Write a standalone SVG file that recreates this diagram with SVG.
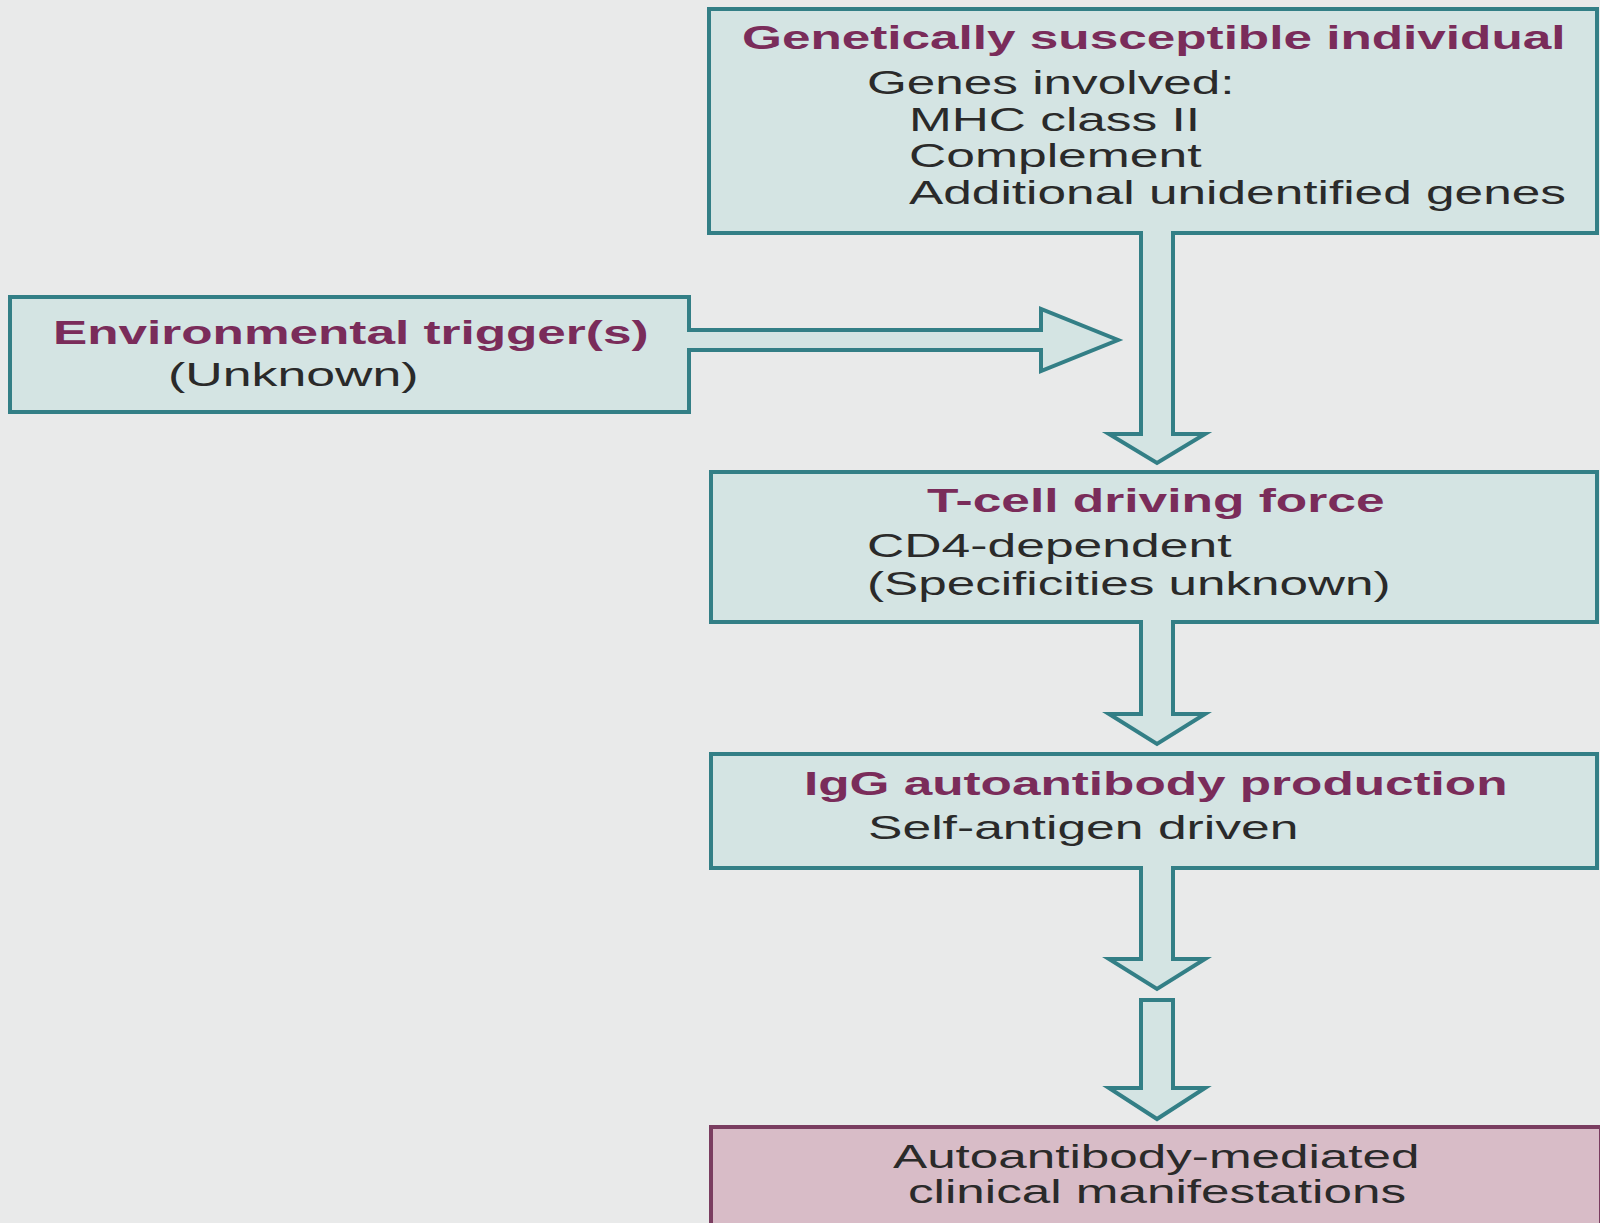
<svg xmlns="http://www.w3.org/2000/svg" width="1600" height="1223" viewBox="0 0 1600 1223">
<style>
.box{fill:#d4e4e3;stroke:#337f86;stroke-width:4}
.pbox{fill:#d8bcc7;stroke:#7a3d60;stroke-width:4}
.af{fill:#d4e4e3;stroke:none}
.as{fill:none;stroke:#337f86;stroke-width:4;stroke-linejoin:miter}
.t{font-family:"Liberation Sans",Arial,sans-serif;font-size:33px;font-weight:bold;fill:#7a2c5a}
.b{font-family:"Liberation Sans",Arial,sans-serif;font-size:33px;fill:#2a2a2a}
</style>
<rect width="1600" height="1223" fill="#e9eaea"/>
<g id="connectors">
<polygon class="af" points="1141,231 1141,434 1109,434 1157,463 1205,434 1173,434 1173,231"/>
<path class="as" d="M1141,233 L1141,434 L1109,434 L1157,463 L1205,434 L1173,434 L1173,233"/>
<polygon class="af" points="687,330 1041,330 1041,309 1118,340 1041,371 1041,350 687,350"/>
<path class="as" d="M689,330 L1041,330 L1041,309 L1118,340 L1041,371 L1041,350 L689,350"/>
<polygon class="af" points="1141,620 1141,714 1109,714 1157,744 1205,714 1173,714 1173,620"/>
<path class="as" d="M1141,622 L1141,714 L1109,714 L1157,744 L1205,714 L1173,714 L1173,622"/>
<polygon class="af" points="1141,866 1141,959 1109,959 1157,989 1205,959 1173,959 1173,866"/>
<path class="as" d="M1141,868 L1141,959 L1109,959 L1157,989 L1205,959 L1173,959 L1173,868"/>
<path class="box" d="M1141,1000 L1141,1088 L1109,1088 L1157,1119 L1205,1088 L1173,1088 L1173,1000 Z"/>
</g>
<g id="node-genetic">
<rect class="box" x="709" y="9" width="888" height="224"/>
<polygon class="af" points="1143,228 1171,228 1171,236 1143,236"/>
<text class="t" transform="translate(742,49) scale(1.5,1)" textLength="549" lengthAdjust="spacingAndGlyphs">Genetically susceptible individual</text>
<text class="b" transform="translate(867,94) scale(1.5,1)" textLength="245" lengthAdjust="spacingAndGlyphs">Genes involved:</text>
<text class="b" transform="translate(909,131) scale(1.5,1)" textLength="194" lengthAdjust="spacingAndGlyphs">MHC class II</text>
<text class="b" transform="translate(909,167) scale(1.5,1)" textLength="195" lengthAdjust="spacingAndGlyphs">Complement</text>
<text class="b" transform="translate(909,204) scale(1.5,1)" textLength="438" lengthAdjust="spacingAndGlyphs">Additional unidentified genes</text>
</g>
<g id="node-environment">
<rect class="box" x="10" y="297" width="679" height="115"/>
<polygon class="af" points="684,332 694,332 694,348 684,348"/>
<text class="t" transform="translate(53,344) scale(1.5,1)" textLength="397" lengthAdjust="spacingAndGlyphs">Environmental trigger(s)</text>
<text class="b" transform="translate(168,386) scale(1.5,1)" textLength="167" lengthAdjust="spacingAndGlyphs">(Unknown)</text>
</g>
<g id="node-tcell">
<rect class="box" x="711" y="472" width="886" height="150"/>
<polygon class="af" points="1143,617 1171,617 1171,625 1143,625"/>
<text class="t" transform="translate(927,512) scale(1.5,1)" textLength="305" lengthAdjust="spacingAndGlyphs">T-cell driving force</text>
<text class="b" transform="translate(867,557) scale(1.5,1)" textLength="243" lengthAdjust="spacingAndGlyphs">CD4-dependent</text>
<text class="b" transform="translate(867,595) scale(1.5,1)" textLength="349" lengthAdjust="spacingAndGlyphs">(Specificities unknown)</text>
</g>
<g id="node-igg">
<rect class="box" x="711" y="754" width="886" height="114"/>
<polygon class="af" points="1143,863 1171,863 1171,871 1143,871"/>
<text class="t" transform="translate(804,795) scale(1.5,1)" textLength="469" lengthAdjust="spacingAndGlyphs">IgG autoantibody production</text>
<text class="b" transform="translate(868,839) scale(1.5,1)" textLength="287" lengthAdjust="spacingAndGlyphs">Self-antigen driven</text>
</g>
<g id="node-clinical">
<rect class="pbox" x="711" y="1127" width="890" height="110"/>
<text class="b" transform="translate(893,1168) scale(1.5,1)" textLength="351" lengthAdjust="spacingAndGlyphs">Autoantibody-mediated</text>
<text class="b" transform="translate(908,1203) scale(1.5,1)" textLength="332" lengthAdjust="spacingAndGlyphs">clinical manifestations</text>
</g>
</svg>
